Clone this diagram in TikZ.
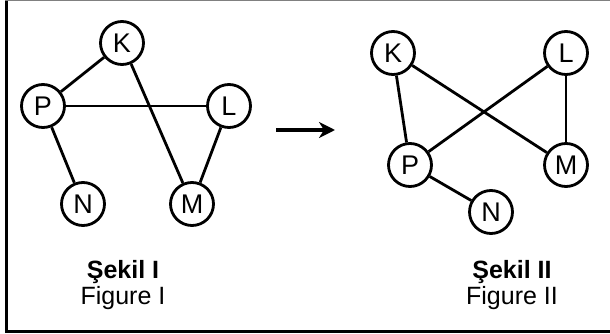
\documentclass[tikz,border=0pt]{standalone}
\usepackage{fontspec}
\setmainfont{Liberation Sans}
\usetikzlibrary{arrows.meta}

\begin{document}
\begin{tikzpicture}[x=1pt,y=-1pt,
  vertex/.style={draw,circle,line width=2.8pt,minimum size=43pt,inner sep=0pt,
    font=\fontsize{27}{30}\selectfont},
  edge/.style={line width=2.8pt},
  caption/.style={anchor=base,font=\fontsize{25}{30}\selectfont}]
\useasboundingbox (0,0) rectangle (610,334);
% frame
\draw[gray,line width=1pt] (5,1) -- (610,1);
\draw[line width=3pt] (6,1) -- (6,331) -- (610,331);
% Sekil I
\node[vertex] (K1) at (122,43) {K};
\node[vertex] (P1) at (43,106) {P};
\node[vertex] (L1) at (229,106) {L};
\node[vertex] (N1) at (83,204) {N};
\node[vertex] (M1) at (192,204) {M};
\draw[edge] (P1) -- (K1);
\draw[edge] (P1) -- (L1);
\draw[edge] (P1) -- (N1);
\draw[edge] (K1) -- (M1);
\draw[edge] (L1) -- (M1);
\node[caption,font=\fontsize{25}{30}\selectfont\bfseries] (s1) at (123,278) {Şekil I};
\node[caption] (f1) at (123,304) {Figure I};
% arrow
\coordinate (a0) at (276,130);
\coordinate (a1) at (335,130);
\draw[line width=3.5pt,-{Stealth[length=16pt,width=16pt,inset=5pt]}] (a0) -- (a1);
% Sekil II
\node[vertex] (K2) at (393,53) {K};
\node[vertex] (L2) at (566,53) {L};
\node[vertex] (P2) at (410,165) {P};
\node[vertex] (M2) at (566,165) {M};
\node[vertex] (N2) at (491,212) {N};
\draw[edge] (K2) -- (P2);
\draw[edge] (K2) -- (M2);
\draw[edge] (L2) -- (P2);
\draw[edge] (L2) -- (M2);
\draw[edge] (P2) -- (N2);
\node[caption,font=\fontsize{25}{30}\selectfont\bfseries] (s2) at (512,278) {Şekil II};
\node[caption] (f2) at (512,304) {Figure II};
\end{tikzpicture}
\end{document}
